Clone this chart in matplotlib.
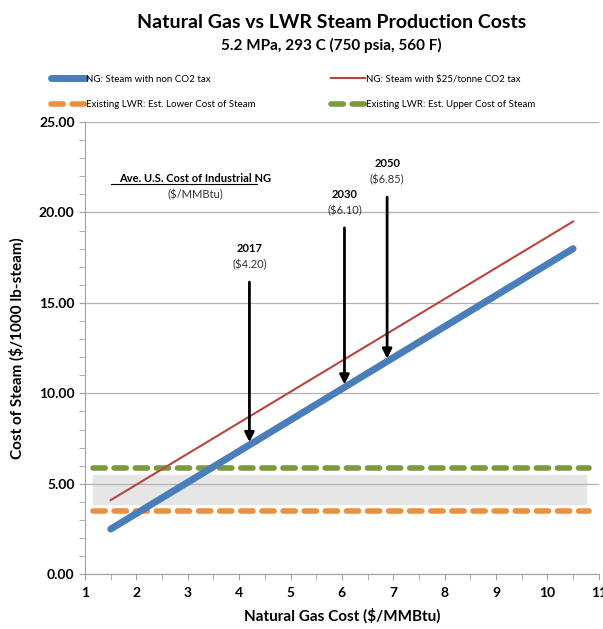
import matplotlib.pyplot as plt
import numpy as np

plt.rcParams['font.family'] = ['Lato', 'DejaVu Sans']

# data
gas_cost = [1.5, 10.5]
steam_no_tax = [2.5, 18.0]
steam_co2_tax = [4.1, 19.5]
lwr_x = [1.15, 10.8]
lwr_lower = [3.5, 3.5]
lwr_upper = [5.9, 5.9]
band_lo, band_hi = 3.9, 5.5

years = ['2017', '2030', '2050']
year_prices = [4.20, 6.05, 6.88]
price_labels = ['($4.20)', '($6.10)', '($6.85)']
arrow_tops = [16.3, 19.3, 21.0]

fig = plt.figure(figsize=(6.03, 6.29), dpi=100)
ax = fig.add_axes([0.141, 0.087, 0.852, 0.719])

# grey band behind the dashed lines
ax.fill_between([1.15, 10.75], band_lo, band_hi, color='#e6e6e6', zorder=1)

l1, = ax.plot(gas_cost, steam_no_tax, color='#4a7ebb', lw=5, solid_capstyle='round',
              label='NG: Steam with non CO2 tax', zorder=3)
l2, = ax.plot(gas_cost, steam_co2_tax, color='#b4463f', lw=1.5,
              label='NG: Steam with $25/tonne CO2 tax', zorder=3)
l3, = ax.plot(lwr_x, lwr_lower, color='#e8913f', lw=4, dashes=(2.2, 1.6), dash_capstyle='round',
              label='Existing LWR: Est. Lower Cost of Steam', zorder=2)
l4, = ax.plot(lwr_x, lwr_upper, color='#7a9a3c', lw=4, dashes=(2.2, 1.6), dash_capstyle='round',
              label='Existing LWR: Est. Upper Cost of Steam', zorder=2)

# arrows down to the no-tax line
for yr, p, lab, top in zip(years, year_prices, price_labels, arrow_tops):
    y_end = np.interp(p, gas_cost, steam_no_tax)
    ax.annotate('', xy=(p, y_end), xytext=(p, top),
                arrowprops=dict(arrowstyle='-|>', color='black', lw=2, mutation_scale=14),
                zorder=4)
    ax.text(p, top + 1.7, yr, ha='center', va='center', fontsize=8, fontweight='bold')
    ax.text(p, top + 0.8, lab, ha='center', va='center', fontsize=8, color='#333333')

ax.text(3.15, 21.9, 'Ave. U.S. Cost of Industrial NG', ha='center', va='center',
        fontsize=8, fontweight='bold')
ax.plot([1.5, 4.35], [21.6, 21.6], color='black', lw=0.8)
ax.text(3.15, 21.0, '($/MMBtu)', ha='center', va='center', fontsize=8, color='#333333')

ax.set_xlim(1, 11)
ax.set_ylim(0, 25)
ax.set_xticks(range(1, 12))
ax.set_xticks(np.arange(1, 11.01, 0.5), minor=True)
ax.set_yticks(np.arange(0, 25.01, 5))
ax.set_yticks(np.arange(0, 25.01, 1), minor=True)
ax.set_yticklabels(['%.2f' % v for v in np.arange(0, 25.01, 5)])
for t in ax.get_xticklabels() + ax.get_yticklabels():
    t.set_fontweight('bold')
    t.set_fontsize(10)
ax.tick_params(which='both', color='#a0a0a0', length=4, direction='out')
ax.tick_params(axis='x', pad=5)
ax.grid(axis='y', which='major', color='#b0b0b0', lw=0.9, zorder=0)
for s in ['top', 'right']:
    ax.spines[s].set_visible(False)
for s in ['left', 'bottom']:
    ax.spines[s].set_color('#a0a0a0')

ax.set_xlabel('Natural Gas Cost ($/MMBtu)', fontsize=11, fontweight='bold', labelpad=7)
ax.set_ylabel('Cost of Steam ($/1000 lb-steam)', fontsize=11, fontweight='bold', labelpad=10)

fig.text(0.55, 0.965, 'Natural Gas vs LWR Steam Production Costs', ha='center',
         va='center', fontsize=14, fontweight='bold')
fig.text(0.55, 0.927, '5.2 MPa, 293 C (750 psia, 560 F)', ha='center', va='center',
         fontsize=11, fontweight='bold')

# ncol=2 fills columns first, so order handles to give the reference rows
fig.legend([l1, l3, l2, l4], [l.get_label() for l in (l1, l3, l2, l4)],
           loc='upper left', bbox_to_anchor=(0.07, 0.895), ncol=2, frameon=False,
           fontsize=7, handlelength=3.5, handletextpad=0.1, columnspacing=7.8,
           labelspacing=1.7)

fig.savefig('out.png', dpi=100)
